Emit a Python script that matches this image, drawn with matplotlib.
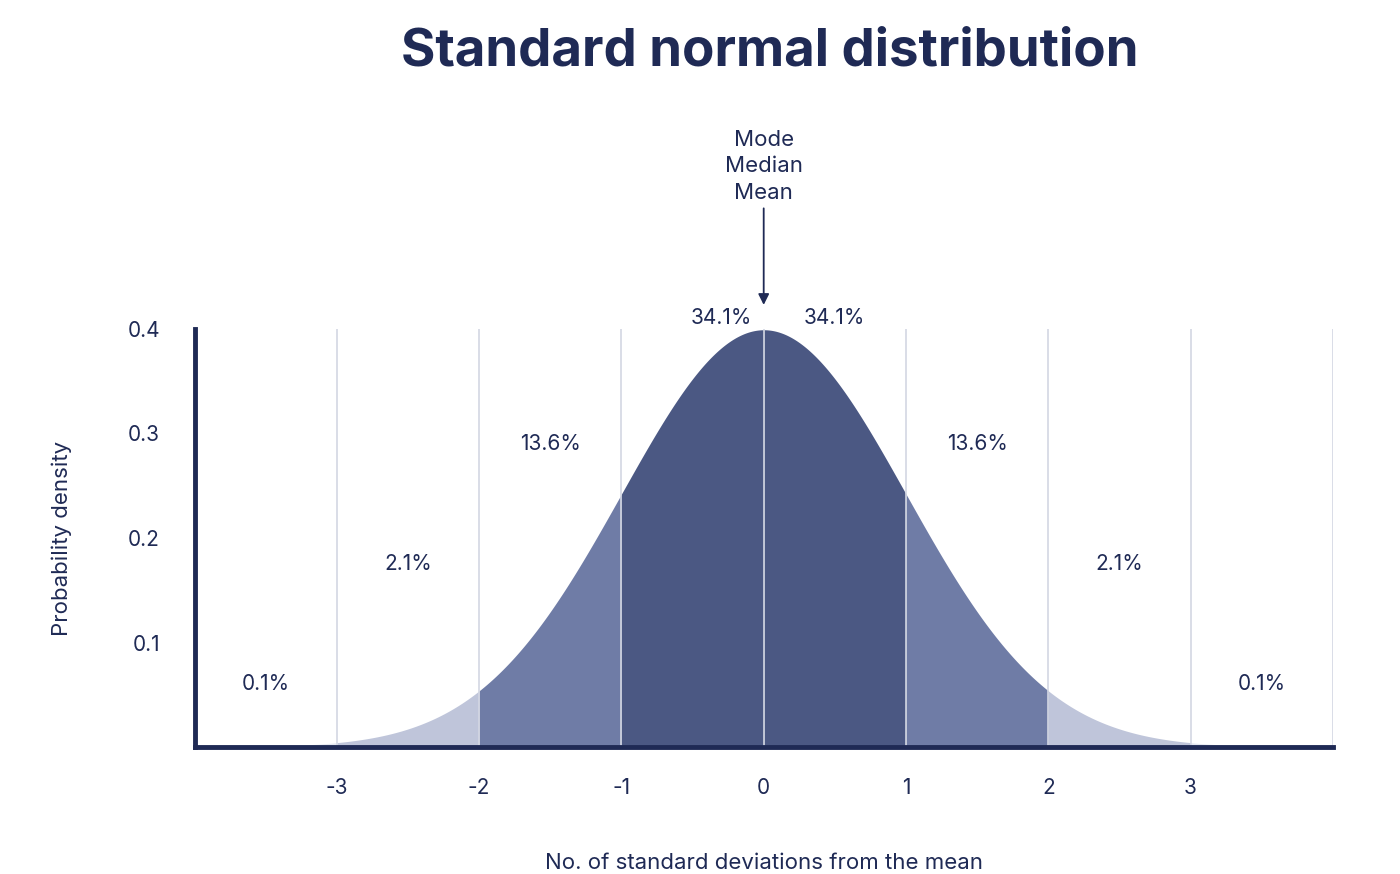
import numpy as np
import matplotlib.pyplot as plt

# band edges (in standard deviations) and their shares
band_edges = [-4, -3, -2, -1, 0, 1, 2, 3, 4]
band_labels = ["0.1%", "2.1%", "13.6%", "34.1%", "34.1%", "13.6%", "2.1%", "0.1%"]
band_colors = ["#e4e7f0", "#bfc5da", "#6f7ca6", "#4b5883",
               "#4b5883", "#6f7ca6", "#bfc5da", "#e4e7f0"]
label_y = [0.06, 0.175, 0.29, 0.41, 0.41, 0.29, 0.175, 0.06]
label_x = [-3.5, -2.5, -1.5, -0.3, 0.5, 1.5, 2.5, 3.5]
xticks = [-3, -2, -1, 0, 1, 2, 3]
yticks = [0.1, 0.2, 0.3, 0.4]

navy = "#1f2a55"
plt.rcParams['font.family'] = ['Inter', 'DejaVu Sans']

fig = plt.figure(figsize=(14, 8.74), dpi=100)
ax = fig.add_axes([0.139, 0.145, 0.813, 0.479])

def pdf(x):
    return np.exp(-x ** 2 / 2) / np.sqrt(2 * np.pi)

for i in range(len(band_edges) - 1):
    xs = np.linspace(band_edges[i], band_edges[i + 1], 200)
    ax.fill_between(xs, 0, pdf(xs), color=band_colors[i], lw=0, zorder=1)
    ax.text(label_x[i], label_y[i], band_labels[i], ha="center", va="center",
            fontsize=15, color=navy)

for x in band_edges[1:]:
    ax.plot([x, x], [0, 0.4], color="#d3d7e3", lw=1.2, zorder=2)

ax.set_xlim(-4, 4)
ax.set_ylim(0, 0.4)
ax.set_xticks(xticks)
ax.set_xticklabels([str(t) for t in xticks])
ax.set_yticks(yticks)
ax.tick_params(length=0, labelsize=15, colors=navy, pad=22)
ax.tick_params(axis="y", pad=25)
for s in ["top", "right"]:
    ax.spines[s].set_visible(False)
for s in ["left", "bottom"]:
    ax.spines[s].set_color(navy)
    ax.spines[s].set_linewidth(3.5)
ax.set_xlabel("No. of standard deviations from the mean", fontsize=16,
              color=navy, labelpad=40)
ax.set_ylabel("Probability density", fontsize=16, color=navy, labelpad=40)

ax.annotate("Mode\nMedian\nMean", xy=(0, 0.42), xytext=(0, 0.555),
            ha="center", va="center", fontsize=16, color=navy,
            linespacing=1.4, annotation_clip=False,
            arrowprops=dict(arrowstyle="-|>", color=navy, lw=1.3))

fig.text(0.55, 0.94, "Standard normal distribution", ha="center", va="center",
         fontsize=38, fontweight="bold", color=navy)

fig.savefig("out.png", dpi=100, facecolor="white")
